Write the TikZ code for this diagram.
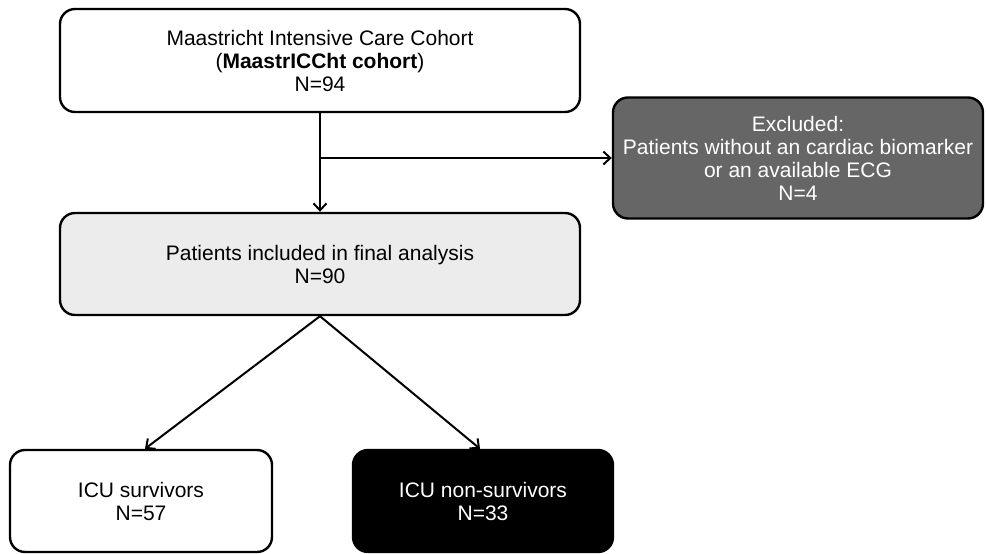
\documentclass[tikz,border=0pt]{standalone}
\usepackage{fontspec}
\setmainfont{Liberation Sans}
\usetikzlibrary{arrows.meta}
\definecolor{exclgray}{HTML}{666666}
\definecolor{midgray}{HTML}{ECECEC}
\begin{document}
\begin{tikzpicture}[x=1pt,y=-1pt,
  box/.style={draw=black, line width=2.4pt, rounded corners=15pt, align=center, inner sep=0pt,
    font=\fontsize{21}{23}\selectfont},
  conn/.style={line width=2pt, -{Straight Barb[length=7pt,width=13pt,line width=2pt]}}]
\useasboundingbox (0,0) rectangle (986,554);
\node[box, fill=white, minimum width=520pt, minimum height=103pt] (top) at (320,60.5)
  {Maastricht Intensive Care Cohort\\(\textbf{MaastrICCht cohort})\\N=94};
\node[box, fill=exclgray, text=white, minimum width=370pt, minimum height=121pt] (excl) at (798,158)
  {Excluded:\\Patients without an cardiac biomarker\\or an available ECG\\N=4};
\node[box, fill=midgray, minimum width=520pt, minimum height=102pt] (mid) at (320,264)
  {Patients included in final analysis\\N=90};
\node[box, fill=white, minimum width=262pt, minimum height=102pt] (surv) at (141,501)
  {ICU survivors\\N=57};
\node[box, fill=black, text=white, minimum width=260pt, minimum height=102pt] (nons) at (483,501)
  {ICU non-survivors\\N=33};
\coordinate (br) at (320,158);
\draw[conn] (top.south) -- (mid.north);
\draw[conn] (br) -- (excl.west);
\draw[conn] (mid.south) -- ([xshift=4pt]surv.north);
\draw[conn] (mid.south) -- ([xshift=-3pt]nons.north);
\end{tikzpicture}
\end{document}
